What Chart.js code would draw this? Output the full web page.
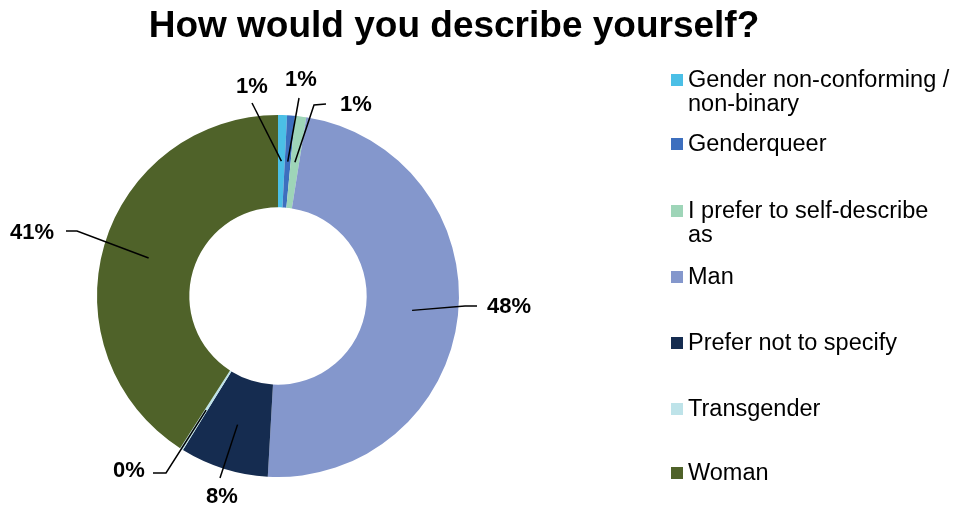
<!DOCTYPE html>
<html>
<head>
<meta charset="utf-8">
<script src="https://cdn.jsdelivr.net/npm/chart.js@4.4.1/dist/chart.umd.min.js"></script>
<style>
html,body{margin:0;padding:0;background:#fff;}
#wrap{width:956px;height:508px;position:relative;}
</style>
</head>
<body>
<div id="wrap"><canvas id="c" width="956" height="508"></canvas></div>
<script>
const titleText = 'How would you describe yourself?';
const categories = ['Gender non-conforming / non-binary','Genderqueer','I prefer to self-describe as','Man','Prefer not to specify','Transgender','Woman'];
const legendLines = [['Gender non-conforming /','non-binary'],['Genderqueer'],['I prefer to self-describe','as'],['Man'],['Prefer not to specify'],['Transgender'],['Woman']];
const shares = [0.8, 0.7, 1.0, 48.4, 7.9, 0.3, 40.9];
const shareLabels = ['1%','1%','1%','48%','8%','0%','41%'];
const colors = ['#4BBFE6','#3D6FBE','#9ED5B8','#8497CC','#152C50','#BEE3E9','#4F6229'];

// label placement relative to doughnut centre: [labelX, labelY, [line points...]]
const labelLayout = [
  [-26,-209, [[-26,-193]]],
  [23,-216, [[21,-198]]],
  [78,-191, [[36,-191],[48,-192]]],
  [231,11, [[187,10],[199,10]]],
  [-56,201, [[-58,182]]],
  [-149,175, [[-112,177],[-125,177]]],
  [-246,-63, [[-201,-65],[-212,-65]]]
];

const FONT = '"Liberation Sans", Arial, sans-serif';

const overlay = {
  id:'overlay',
  afterDraw(chart){
    const ctx = chart.ctx;
    const meta = chart.getDatasetMeta(0);
    ctx.save();
    // title
    ctx.fillStyle = '#000';
    ctx.font = 'bold 37px ' + FONT;
    ctx.textAlign = 'center';
    ctx.textBaseline = 'middle';
    ctx.fillText(titleText, 454, 27);
    // data labels
    meta.data.forEach((arc, i) => {
      const p = arc.getProps(['x','y','startAngle','endAngle','innerRadius','outerRadius'], true);
      const mid = (p.startAngle + p.endAngle)/2;
      const r = (p.innerRadius + p.outerRadius)/2;
      const ax = p.x + Math.cos(mid)*r, ay = p.y + Math.sin(mid)*r;
      const L = labelLayout[i];
      ctx.strokeStyle = '#000';
      ctx.lineWidth = 1.5;
      ctx.beginPath();
      ctx.moveTo(ax, ay);
      L[2].forEach(pt => ctx.lineTo(p.x + pt[0], p.y + pt[1]));
      ctx.stroke();
      ctx.fillStyle = '#000';
      ctx.font = 'bold 22px ' + FONT;
      ctx.textAlign = 'center';
      ctx.textBaseline = 'middle';
      ctx.fillText(shareLabels[i], p.x + L[0], p.y + L[1]);
    });
    // legend
    const legendTops = [80,144,211,277,343,409,473];
    ctx.font = '23.5px ' + FONT;
    ctx.textAlign = 'left';
    ctx.textBaseline = 'middle';
    legendLines.forEach((lines, i) => {
      const y = legendTops[i];
      ctx.fillStyle = colors[i];
      ctx.fillRect(671, y - 6, 12, 12);
      ctx.fillStyle = '#000';
      lines.forEach((t, j) => ctx.fillText(t, 688, y + 1 + j*24));
    });
    ctx.restore();
  }
};

new Chart(document.getElementById('c'), {
  type:'doughnut',
  data:{
    labels: categories,
    datasets:[{
      data: shares,
      backgroundColor: colors,
      borderWidth: 0
    }]
  },
  options:{
    responsive:false,
    animation:false,
    cutout:'49%',
    layout:{padding:{left:97, right:497, top:115, bottom:31}},
    plugins:{legend:{display:false}, title:{display:false}, tooltip:{enabled:false}}
  },
  plugins:[overlay]
});
</script>
</body>
</html>
